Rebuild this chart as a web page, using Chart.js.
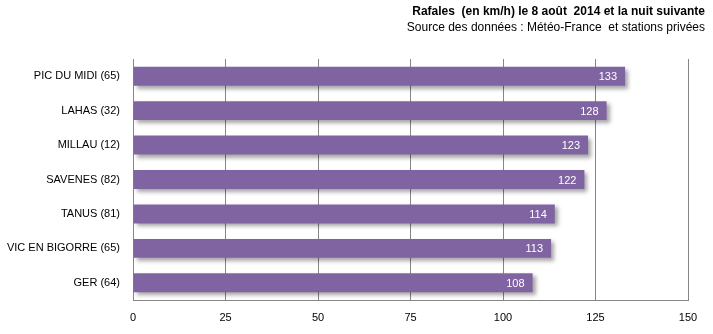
<!DOCTYPE html>
<html>
<head>
<meta charset="utf-8">
<script src="https://cdn.jsdelivr.net/npm/chart.js@4/dist/chart.umd.min.js"></script>
<style>
  html, body { margin: 0; padding: 0; background: #fff; }
  #wrap { width: 713px; height: 334px; position: relative; }
</style>
</head>
<body>
<div id="wrap"><canvas id="rafalesChart"></canvas></div>
<script>
const stations = ['PIC DU MIDI (65)', 'LAHAS (32)', 'MILLAU (12)', 'SAVENES (82)', 'TANUS (81)', 'VIC EN BIGORRE (65)', 'GER (64)'];
const rafales = [133, 128, 123, 122, 114, 113, 108];
const xTicks = [0, 25, 50, 75, 100, 125, 150];
const titleText = 'Rafales  (en km/h) le 8 août  2014 et la nuit suivante';
const subtitleText = 'Source des données : Météo-France  et stations privées';

const fontFamily = '"Liberation Sans", "DejaVu Sans", sans-serif';

// shadow under bars + value labels inside the bar end
const barExtras = {
    id: 'barExtras',
    beforeDatasetsDraw(chart) {
        const ctx = chart.ctx;
        ctx.save();
        ctx.shadowColor = 'rgba(0, 0, 0, 0.35)';
        ctx.shadowBlur = 4;
        ctx.shadowOffsetX = 3;
        ctx.shadowOffsetY = 3;
    },
    afterDatasetsDraw(chart) {
        const ctx = chart.ctx;
        ctx.restore();
        const meta = chart.getDatasetMeta(0);
        ctx.save();
        ctx.fillStyle = '#ffffff';
        ctx.font = '11px ' + fontFamily;
        ctx.textAlign = 'right';
        ctx.textBaseline = 'middle';
        meta.data.forEach(function (bar, i) {
            ctx.fillText(rafales[i], bar.x - 8, bar.y + 1);
        });
        ctx.restore();
    },
    afterDraw(chart) {
        const ctx = chart.ctx;
        ctx.save();
        ctx.fillStyle = '#000000';
        ctx.textAlign = 'right';
        ctx.textBaseline = 'middle';
        ctx.font = 'bold 12px ' + fontFamily;
        ctx.fillText(titleText, 705, 12);
        ctx.font = '12px ' + fontFamily;
        ctx.fillText(subtitleText, 705, 28);
        ctx.restore();
    }
};

const ctxRafales = document.getElementById('rafalesChart').getContext('2d');
new Chart(ctxRafales, {
    type: 'bar',
    data: {
        labels: stations,
        datasets: [{
            data: rafales,
            backgroundColor: '#8064A2',
            borderWidth: 0,
            categoryPercentage: 1,
            barPercentage: 0.55,
        }]
    },
    options: {
        indexAxis: 'y',
        responsive: true,
        maintainAspectRatio: false,
        animation: false,
        layout: { padding: { top: 59, right: 25, left: 0, bottom: 0 } },
        plugins: {
            legend: { display: false },
            tooltip: { enabled: false },
        },
        scales: {
            x: {
                min: 0,
                max: 150,
                afterBuildTicks(scale) {
                    scale.ticks = xTicks.map(v => ({ value: v }));
                },
                grid: { color: '#868686', drawTicks: false },
                border: { color: '#868686' },
                ticks: {
                    color: '#000000',
                    padding: 11,
                    font: { family: fontFamily, size: 11 },
                },
                afterFit(scale) { scale.height = 34; }
            },
            y: {
                grid: { display: false, drawTicks: false },
                border: { color: '#868686' },
                ticks: {
                    color: '#000000',
                    padding: 13,
                    font: { family: fontFamily, size: 11 },
                },
                afterFit(scale) { scale.width = 133; }
            }
        }
    },
    plugins: [barExtras]
});
</script>
</body>
</html>
